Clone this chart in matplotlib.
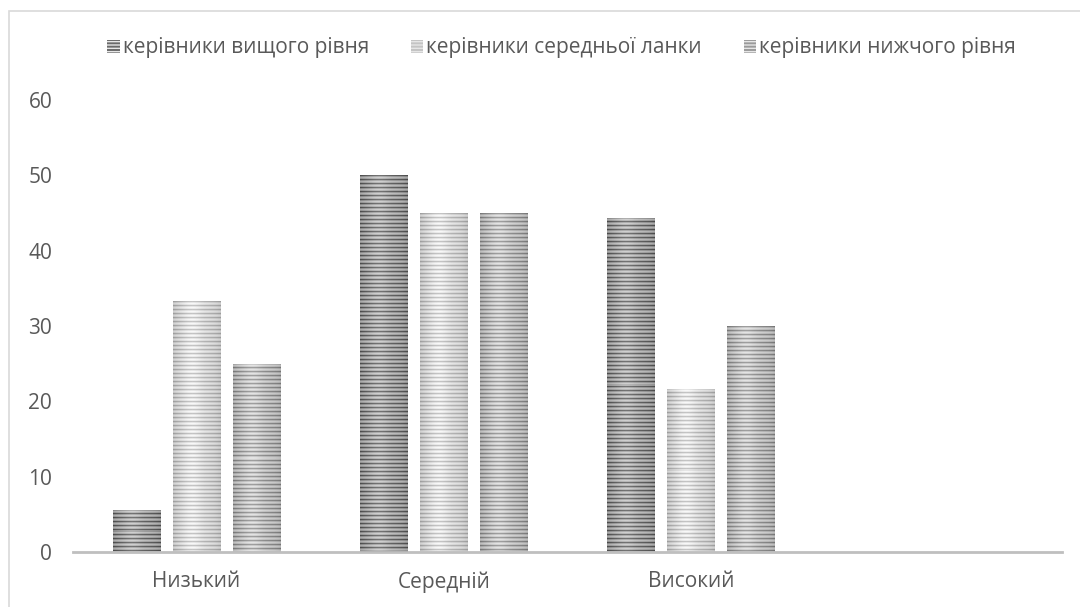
import numpy as np
import matplotlib.pyplot as plt
from matplotlib.patches import Patch, Rectangle

plt.rcParams['font.family'] = ['Open Sans', 'DejaVu Sans']

# рівні та групи керівників
categories = ['Низький', 'Середній', 'Високий', '']
series_names = ['керівники вищого рівня', 'керівники середньої ланки', 'керівники нижчого рівня']
top_level = [5.6, 50, 44.4, 0]
middle_level = [33.3, 45, 21.7, 0]
lower_level = [25, 45, 30, 0]
yticks = [0, 10, 20, 30, 40, 50, 60]

# смуги: (темна, світла) яскравість для кожного ряду
stripe_tones = [(0.36, 0.72), (0.68, 0.88), (0.53, 0.80)]
legend_colors = ['#6a6a6a', '#c4c4c4', '#9a9a9a']
text_color = '#595959'

fig = plt.figure(figsize=(10.8, 6.07), dpi=100)
ax = fig.add_axes([73 / 1080, 1 - 552 / 607, (1062 - 73) / 1080, (552 - 100) / 607])

# рамка навколо діаграми
fig.patches.append(Rectangle((9 / 1080, -0.1), 1.2, 1.1 - 11 / 607, transform=fig.transFigure,
                             fill=False, edgecolor='#d9d9d9', linewidth=1.2))

x = np.arange(len(categories))
width = 0.194
offsets = [-0.243, 0, 0.243]
ax.set_xlim(-0.5, 3.5)
ax.set_ylim(0, 60)


def striped_texture(h_px, w_px, tones):
    dark, light = tones
    rows = np.arange(h_px)
    pattern = np.array([0.0, 0.65, 1.0, 0.75])
    v = dark + (light - dark) * pattern[rows % len(pattern)]
    u = np.linspace(0, 1, w_px)
    shade = 0.09 * np.exp(-((u - 0.4) / 0.22) ** 2) - 0.07 * (np.abs(u - 0.5) * 2) ** 4
    img = np.clip(v[:, None] + shade[None, :], 0, 1)
    return img


for vals, off, tones in zip([top_level, middle_level, lower_level], offsets, stripe_tones):
    bars = ax.bar(x + off, vals, width, color='none', edgecolor='none')
    for b in bars:
        h = b.get_height()
        if h <= 0:
            continue
        x0, y0 = b.get_x(), b.get_y()
        w = b.get_width()
        p0 = ax.transData.transform((x0, y0))
        p1 = ax.transData.transform((x0 + w, y0 + h))
        h_px = max(int(round(p1[1] - p0[1])), 1)
        w_px = max(int(round(p1[0] - p0[0])), 1)
        img = striped_texture(h_px, w_px, tones)
        im = ax.imshow(img, cmap='gray', vmin=0, vmax=1, aspect='auto',
                       extent=(x0, x0 + w, y0, y0 + h), origin='upper',
                       interpolation='nearest', zorder=2)
        im.set_clip_path(b)

ax.set_xlim(-0.5, 3.5)
ax.set_ylim(0, 60)

for s in ['top', 'right', 'left']:
    ax.spines[s].set_visible(False)
ax.spines['bottom'].set_color('#bfbfbf')
ax.spines['bottom'].set_linewidth(2)
ax.spines['bottom'].set_zorder(3)

ax.set_xticks(x)
ax.set_xticklabels(categories)
ax.set_yticks(yticks)
ax.tick_params(axis='both', length=0, labelsize=15, labelcolor=text_color)
ax.tick_params(axis='y', pad=15)
ax.tick_params(axis='x', pad=14)

handles = [Patch(facecolor=c, edgecolor='#e6e6e6', hatch='-----', linewidth=0) for c in legend_colors]
fig.legend(handles, series_names, loc='center', bbox_to_anchor=(0.52, 1 - 48 / 607), ncol=3,
           frameon=False, fontsize=15, labelcolor=text_color, handlelength=0.6, handleheight=0.6,
           handletextpad=0.15, columnspacing=2.0)

fig.savefig('out.png', dpi=100)
